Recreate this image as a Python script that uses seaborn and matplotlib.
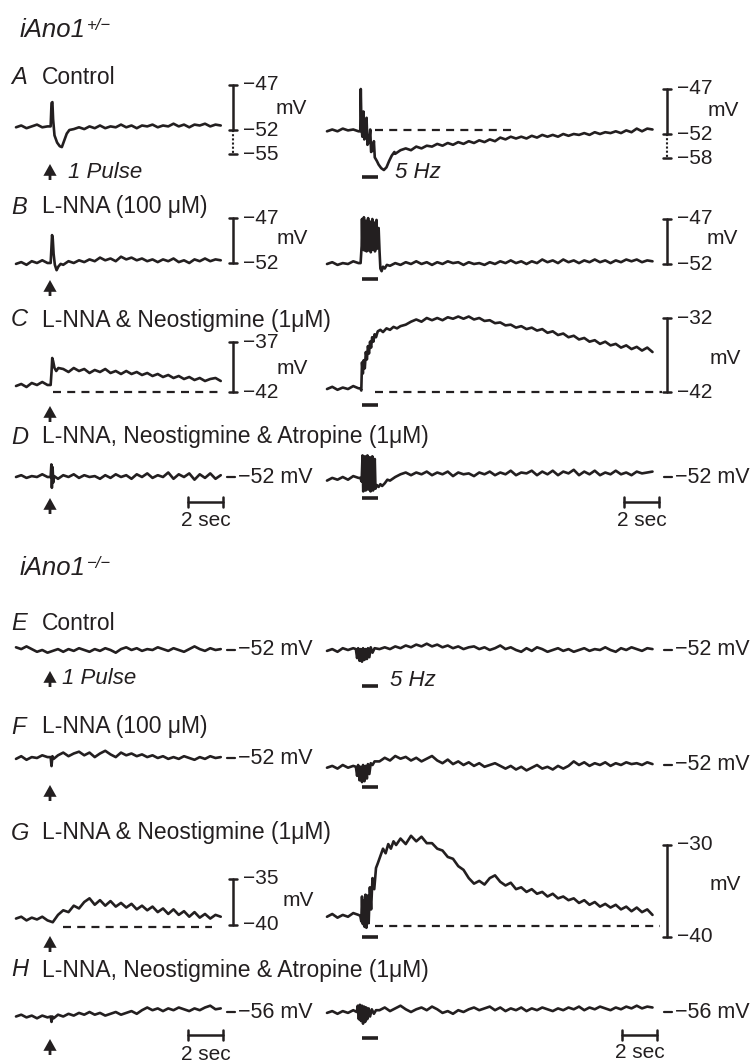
import numpy as np
import matplotlib
matplotlib.use("Agg")
import matplotlib.pyplot as plt
import seaborn as sns

sns.set_theme(style="white")
plt.rcParams['font.family'] = ['Liberation Sans', 'DejaVu Sans']

# ---------------------------------------------------------------- data
# membrane potential traces (mV) read off the figure, sampled every STEP s;
# *_ev_t / *_ev_v hold the finer samples read around the stimulus.
STEP = 0.3

A_left = [-51.7, -51.5, -51.8, -51.6, -51.4, -51.7, -51.6, -52.0, -53.5, -53.8, -52.5,
          -51.9, -51.7, -51.9, -51.6, -51.8, -51.5, -51.8, -51.6, -51.7, -51.4, -51.7, -51.5,
          -51.8, -51.5, -51.6, -51.4, -51.7, -51.5, -51.6, -51.3, -51.6, -51.4, -51.7, -51.4,
          -51.5, -51.3, -51.6, -51.4, -51.5]
A_left_ev_t = [1.98, 2.03, 2.08, 2.12, 2.2, 2.35, 2.5, 2.62, 2.75, 2.9, 3.05]
A_left_ev_v = [-51.6, -49.0, -48.9, -50.8, -52.6, -53.4, -53.8, -53.9, -53.2, -52.4, -52.0]

A_right = [-51.7, -51.5, -51.7, -51.4, -51.6, -51.5, -51.7, -52.0, -53.0, -54.0, -55.0,
           -56.0, -55.0, -54.2,
           -53.8, -53.6, -53.8, -53.4, -53.6, -53.3, -53.4, -53.1, -53.3, -53.0, -53.2, -52.9,
           -53.1, -52.8, -53.0, -52.7, -52.9, -52.6, -52.8, -52.4, -52.6, -52.3, -52.5, -52.3,
           -52.5, -52.2, -52.4, -52.1, -52.3, -52.1, -52.3, -52.0, -52.2, -52.0, -52.1, -51.9,
           -52.1, -51.8, -52.0, -51.8, -51.9, -51.7, -51.9, -51.6, -51.8, -51.4, -51.7, -51.4,
           -51.5]
A_right_ev_t = [1.9, 1.93, 1.97, 2.02, 2.08, 2.13, 2.2, 2.26, 2.31, 2.4, 2.47, 2.52, 2.62,
                2.68, 2.73, 2.85, 2.95, 3.1, 3.25, 3.4, 3.55, 3.7, 3.85]
A_right_ev_v = [-51.7, -47.0, -51.2, -52.3, -49.5, -52.6, -52.2, -50.2, -53.2, -52.9, -51.5,
                -54.0, -53.8, -52.8, -54.6, -55.0, -55.4, -55.8, -56.0, -55.7, -55.0, -54.4,
                -54.0]

B_left = [-52.1, -51.9, -52.2, -51.8, -52.0, -51.7, -52.0, -50.0, -52.5,
          -52.2, -51.8, -52.0, -51.7, -51.9, -51.6, -51.8, -51.4, -51.7, -51.5, -51.8, -51.3,
          -51.6, -51.4, -51.7, -51.5, -51.8, -51.6, -51.9, -51.6, -51.8, -51.5, -51.9, -51.7,
          -52.0, -51.6, -51.8, -51.5, -51.8, -51.6, -51.7]
B_left_ev_t = [1.98, 2.02, 2.06, 2.1, 2.15, 2.22, 2.32, 2.42, 2.55]
B_left_ev_v = [-52.0, -50.5, -48.9, -49.3, -51.0, -52.2, -52.8, -52.4, -52.1]

B_right = [-52.0, -51.8, -52.1, -51.9, -52.0, -51.7, -51.9, -49.8, -49.8, -49.8, -50.0, -52.5,
           -52.2, -51.9, -52.1, -51.8, -52.0, -51.7, -52.0, -51.8, -52.1, -51.8, -52.0, -51.7,
           -51.9, -51.8, -52.1, -51.8, -52.0, -51.9, -52.1, -51.8, -52.0, -51.7, -51.9, -51.6,
           -51.9, -51.7, -52.0, -51.7, -51.9, -51.5, -51.8, -51.6, -51.9, -51.5, -51.8, -51.6,
           -51.9, -51.6, -51.8, -51.5, -51.8, -51.6, -51.9, -51.6, -51.8, -51.5, -51.7, -51.5,
           -51.8, -51.6, -51.7]
B_right_ev_t = [1.92, 1.98, 2.0, 2.03, 2.08, 2.11, 2.14, 2.2, 2.23, 2.26, 2.32, 2.35, 2.38,
                2.44, 2.47, 2.5, 2.56, 2.59, 2.62, 2.68, 2.71, 2.74, 2.8, 2.83, 2.86, 2.92,
                2.95, 3.0, 3.05, 3.12, 3.2, 3.3, 3.42]
B_right_ev_v = [-51.9, -50.0, -47.0, -50.4, -49.6, -46.8, -50.5, -49.8, -47.2, -50.6, -49.7,
                -46.9, -50.5, -49.9, -47.3, -50.7, -49.8, -47.0, -50.4, -49.9, -47.4, -50.6,
                -50.0, -47.1, -50.3, -49.9, -48.0, -50.5, -52.5, -52.8, -52.3, -52.5, -52.1]

C_left = [-41.4, -41.2, -41.5, -41.1, -41.3, -41.0, -41.3, -39.0, -39.8,
          -39.7, -40.0, -39.6, -39.9, -39.7, -40.1, -39.8, -40.0, -39.7, -40.1, -39.9, -40.2,
          -39.9, -40.2, -40.0, -40.3, -40.1, -40.4, -40.2, -40.5, -40.3, -40.6, -40.4, -40.7,
          -40.5, -40.8, -40.6, -40.9, -40.7, -40.6, -40.9]
C_left_ev_t = [1.98, 2.03, 2.07, 2.12, 2.2, 2.3, 2.42]
C_left_ev_v = [-41.3, -40.0, -38.6, -38.9, -39.6, -39.9, -39.6]

C_right = [-41.6, -41.3, -41.7, -41.4, -41.6, -41.2, -41.5, -38.0, -36.0, -34.5, -33.8,
           -33.6, -33.5, -33.4, -33.3,
           -32.9, -32.5, -32.2, -32.5, -32.0, -32.3, -32.0, -32.3, -31.9, -32.1, -31.8, -32.1,
           -31.8, -32.2, -32.0, -32.4, -32.3, -32.7, -32.6, -33.0, -32.9, -33.3, -33.1, -33.5,
           -33.3, -33.7, -33.5, -34.0, -33.8, -34.3, -34.1, -34.6, -34.4, -34.9, -34.7, -35.2,
           -35.0, -35.5, -35.2, -35.7, -35.5, -36.0, -35.7, -36.2, -35.9, -36.4, -36.0, -36.6]
C_right_ev_t = [1.9, 1.96, 2.0, 2.05, 2.1, 2.16, 2.22, 2.28, 2.34, 2.4, 2.46, 2.52, 2.58,
                2.65, 2.72, 2.8, 2.9, 3.05, 3.2, 3.4, 3.6, 3.8, 4.0, 4.2]
C_right_ev_v = [-41.5, -41.8, -38.0, -39.5, -37.7, -38.8, -36.6, -37.6, -35.8, -36.8, -35.2,
                -36.0, -34.6, -35.2, -34.2, -34.6, -33.8, -33.6, -33.9, -33.4, -33.6, -33.2,
                -33.4, -33.1]

D_left = [-52.0, -51.8, -52.1, -51.9, -52.0, -51.7, -52.0, -52.0,
          -52.2, -51.8, -52.0, -51.7, -52.1, -51.8, -52.0, -51.9, -52.2, -51.8, -52.1, -51.7,
          -52.0, -51.8, -52.2, -51.7, -52.0, -51.6, -52.1, -51.8, -52.0, -51.5, -52.2, -51.7,
          -52.0, -51.6, -52.3, -51.7, -52.1, -51.6, -52.2, -51.8]
D_left_ev_t = [1.98, 2.02, 2.05, 2.09, 2.13, 2.18]
D_left_ev_v = [-52.0, -50.6, -53.2, -50.9, -52.6, -51.9]

D_right = [-52.4, -52.1, -52.3, -52.0, -52.3, -51.9, -52.1, -52.0, -52.0, -52.0, -52.0, -52.7,
           -52.4, -52.0, -51.7, -51.5, -51.8, -51.5, -51.7, -51.4, -51.8, -51.5, -51.7, -51.4,
           -51.9, -51.5, -51.7, -51.6, -51.9, -51.5, -51.7, -51.4, -51.8, -51.5, -51.7, -51.3,
           -51.8, -51.5, -51.6, -51.3, -51.8, -51.4, -51.7, -51.3, -51.8, -51.4, -51.6, -51.2,
           -51.8, -51.4, -51.7, -51.3, -51.8, -51.5, -51.7, -51.3, -51.7, -51.5, -51.8, -51.4,
           -51.6, -51.5, -51.4]
D_right_ev_t = [1.9, 1.98, 2.03, 2.07, 2.17, 2.21, 2.31, 2.35, 2.45, 2.49, 2.59, 2.63, 2.73,
                2.77, 2.85, 2.95, 3.05, 3.15, 3.3, 3.45]
D_right_ev_v = [-52.1, -52.5, -49.6, -53.6, -49.7, -53.5, -49.6, -53.4, -49.8, -53.6, -49.7,
                -53.5, -50.0, -53.3, -52.9, -53.1, -52.8, -53.0, -52.7, -52.3]

E_left = [-51.7, -51.9, -51.6, -51.9, -52.2, -52.0, -52.3, -52.1, -51.9, -52.2, -51.9, -52.1,
          -51.8, -52.0, -52.2, -51.9, -52.1, -51.8, -52.0, -52.3, -51.9, -51.7, -52.0, -51.8,
          -52.1, -51.9, -52.0, -51.7, -51.9, -52.1, -51.8, -52.0, -52.2, -51.9, -51.6, -51.9,
          -52.1, -51.8, -52.0, -51.9]

E_right = [-52.1, -51.9, -52.2, -51.8, -52.0, -51.8, -52.5, -52.5, -52.5, -52.2,
           -51.9, -51.7, -51.9, -51.6, -51.8, -51.5, -51.7, -51.4, -51.6, -51.3, -51.6, -51.4,
           -51.7, -51.5, -51.8, -51.6, -51.9, -51.7, -51.6, -51.9, -51.7, -52.0, -51.8, -51.5,
           -51.9, -51.7, -52.0, -52.2, -51.8, -52.1, -51.7, -51.9, -52.2, -52.0, -51.8, -52.1,
           -51.9, -52.2, -52.0, -51.8, -52.1, -51.9, -52.0, -51.7, -52.0, -52.2, -51.8, -52.0,
           -51.7, -51.9, -52.1, -51.8, -51.9]
E_right_ev_t = [1.65, 1.72, 1.78, 1.86, 1.92, 2.0, 2.06, 2.14, 2.2, 2.28, 2.34, 2.42, 2.5,
                2.6, 2.72]
E_right_ev_v = [-51.9, -52.9, -51.8, -53.2, -51.9, -53.3, -51.8, -53.1, -51.9, -53.0, -51.8,
                -52.8, -51.7, -52.3, -51.8]

F_left = [-52.1, -51.8, -52.2, -51.9, -52.0, -51.7, -51.9, -52.0,
          -51.7, -51.4, -51.8, -51.5, -51.3, -51.7, -51.4, -51.9, -51.5, -51.2, -51.6, -51.9,
          -51.4, -51.7, -51.5, -51.8, -51.6, -51.9, -51.7, -52.0, -51.8, -52.1, -51.9, -52.1,
          -51.8, -52.0, -52.2, -51.9, -52.1, -51.8, -52.0, -51.9]
F_left_ev_t = [1.98, 2.03, 2.08, 2.15]
F_left_ev_v = [-51.9, -52.9, -51.8, -52.1]

F_right = [-52.3, -52.1, -52.4, -52.0, -52.3, -52.1, -53.0, -53.0, -53.0, -52.0,
           -51.6, -51.2, -51.5, -51.0, -51.3, -51.1, -51.5, -51.2, -51.6, -51.3, -51.0, -51.5,
           -51.8, -51.4, -51.9, -51.6, -52.0, -51.7, -52.1, -51.8, -52.2, -52.0, -51.8, -52.1,
           -52.4, -52.1, -52.5, -52.2, -52.6, -52.3, -52.0, -52.4, -52.2, -52.5, -52.1, -52.4,
           -52.1, -51.6, -52.0, -51.7, -52.1, -51.8, -52.0, -51.7, -52.1, -51.8, -52.0, -51.7,
           -51.9, -51.8, -52.0, -51.7, -51.9]
F_right_ev_t = [1.65, 1.72, 1.78, 1.86, 1.92, 2.0, 2.06, 2.14, 2.2, 2.28, 2.34, 2.42, 2.5,
                2.6, 2.72]
F_right_ev_v = [-52.2, -53.2, -52.0, -53.7, -52.2, -53.9, -52.0, -53.8, -52.1, -53.5, -51.9,
                -53.0, -51.8, -52.0, -51.6]

G_left = [-39.3, -39.1, -39.5, -39.2, -39.4, -39.1, -39.5, -39.7, -38.9, -38.4, -38.6, -37.9,
          -38.2, -37.5, -37.1, -37.8, -37.3, -37.9, -37.4, -38.0, -37.6, -38.1, -37.7, -38.3,
          -37.9, -38.4, -38.0, -38.6, -38.2, -38.8, -38.3, -38.9, -38.5, -39.1, -38.6, -39.2,
          -38.8, -39.3, -38.9, -39.1]

G_right = [-37.8, -37.5, -37.9, -37.6, -37.8, -37.4, -37.6, -37.0, -36.0, -34.0, -32.0,
           -31.5, -30.7, -30.2,
           -29.3, -29.9, -29.0, -29.6, -29.1, -29.8, -29.8, -30.4, -30.6, -31.3, -31.5, -32.3,
           -32.7, -33.6, -34.2, -33.9, -34.3, -33.6, -33.3, -34.0, -34.4, -34.1, -34.8, -34.6,
           -35.1, -34.8, -35.3, -35.1, -35.6, -35.3, -35.8, -35.6, -36.0, -35.8, -36.3, -36.0,
           -36.5, -36.2, -36.7, -36.4, -36.8, -36.5, -37.0, -36.7, -37.2, -36.8, -37.3, -37.0,
           -37.6]
G_right_ev_t = [1.9, 1.96, 2.0, 2.05, 2.1, 2.15, 2.2, 2.25, 2.32, 2.38, 2.45, 2.52, 2.6, 2.7,
                2.8, 2.9, 3.05, 3.2, 3.35, 3.5, 3.65, 3.8, 3.95]
G_right_ev_v = [-37.7, -38.3, -35.6, -38.6, -36.0, -38.9, -35.4, -39.0, -35.5, -38.5, -34.6,
                -37.0, -33.6, -34.8, -32.5, -32.0, -31.2, -30.4, -30.9, -29.9, -30.4, -29.6,
                -30.0]

H_left = [-56.5, -56.3, -56.6, -56.4, -56.7, -56.4, -56.6, -56.8,
          -56.3, -56.5, -56.2, -56.4, -56.1, -56.3, -56.0, -56.3, -56.1, -56.4, -56.2, -56.0,
          -56.3, -56.1, -55.9, -56.2, -55.8, -55.5, -55.8, -55.6, -55.9, -55.6, -55.8, -55.5,
          -55.7, -55.9, -55.6, -55.8, -55.5, -55.3, -55.7, -55.6]
H_left_ev_t = [1.98, 2.03, 2.08, 2.15]
H_left_ev_v = [-56.5, -57.1, -56.5, -56.7]

H_right = [-56.1, -55.9, -56.2, -55.9, -56.1, -55.8, -56.0, -56.0, -56.0, -56.0,
           -55.8, -55.5, -55.9, -55.6, -55.3, -55.7, -56.0, -55.7, -55.5, -55.8, -55.4, -55.7,
           -56.1, -55.9, -56.2, -55.8, -56.0, -55.7, -55.5, -55.8, -55.6, -55.4, -55.8, -55.5,
           -55.9, -55.6, -55.8, -55.5, -55.9, -55.6, -55.8, -55.5, -55.7, -55.9, -55.6, -55.8,
           -55.5, -55.7, -55.4, -55.8, -55.5, -55.7, -55.4, -55.6, -55.8, -55.5, -55.7, -55.4,
           -55.6, -55.3, -55.6, -55.4, -55.5]
H_right_ev_t = [1.7, 1.76, 1.82, 1.88, 1.94, 2.0, 2.06, 2.12, 2.18, 2.24, 2.3, 2.38, 2.46,
                2.56, 2.68, 2.8]
H_right_ev_v = [-56.0, -55.3, -56.8, -55.2, -57.0, -55.3, -57.3, -55.4, -57.1, -55.5, -56.8,
                -55.6, -56.5, -55.7, -56.2, -55.8]

# stimulus timing (s)
TRAIN_T = [2.0, 2.9]

# scale-bar values (mV) and labels
SCALE_A = [-47, -52]
SCALE_B = [-47, -52]
SCALE_C_left = [-37, -42]
SCALE_C_right = [-32, -42]
SCALE_G_left = [-35, -40]
SCALE_G_right = [-30, -40]
LEVEL_D = -52
LEVEL_E = -52
LEVEL_F = -52
LEVEL_H = -56
TIME_BAR = 2  # s

panel_letters = ["A", "B", "C", "D", "E", "F", "G", "H"]
panel_titles = ["Control", "L-NNA (100 \u03bcM)", "L-NNA & Neostigmine (1\u03bcM)",
                "L-NNA, Neostigmine & Atropine (1\u03bcM)",
                "Control", "L-NNA (100 \u03bcM)", "L-NNA & Neostigmine (1\u03bcM)",
                "L-NNA, Neostigmine & Atropine (1\u03bcM)"]
genotypes = ["iAno1", "iAno1"]
genotype_sup = ["+/\u2212", "\u2212/\u2212"]

# ---------------------------------------------------------------- layout
W, H = 751, 1062
PXS = 17.5          # px per second
INK = "#231f20"
TRACE_LW = 1.9
fig = plt.figure(figsize=(W / 100, H / 100), dpi=100)
fig.patch.set_facecolor("white")

canvas = fig.add_axes([0, 0, 1, 1])
canvas.set_xlim(0, W)
canvas.set_ylim(H, 0)
canvas.axis("off")


class Half:
    def __init__(self, t0_px, y_ref, v_ref, pxmv, width):
        self.t0, self.yr, self.vr, self.k = t0_px, y_ref, v_ref, pxmv
        x_lo, x_hi = t0_px - 12, t0_px + width
        y_lo, y_hi = y_ref - 110, y_ref + 70
        self.ax = fig.add_axes([x_lo / W, 1 - y_hi / H, (x_hi - x_lo) / W, (y_hi - y_lo) / H])
        self.lims = ((x_lo - t0_px) / PXS, (x_hi - t0_px) / PXS,
                     v_ref - (y_hi - y_ref) / pxmv, v_ref + (y_ref - y_lo) / pxmv)

    def X(self, px):
        return (px - self.t0) / PXS

    def V(self, py):
        return self.vr - (py - self.yr) / self.k

    def finish(self):
        ax = self.ax
        ax.set_xlim(self.lims[0], self.lims[1])
        ax.set_ylim(self.lims[2], self.lims[3])
        ax.axis("off")
        ax.patch.set_alpha(0)
        for ln in ax.lines:
            ln.set_clip_on(False)


def build(grid, ev_t=(), ev_v=()):
    t = STEP * np.arange(len(grid))
    v = np.asarray(grid, float)
    if len(ev_t):
        keep = (t < ev_t[0]) | (t > ev_t[-1])
        t = np.concatenate([t[keep], ev_t])
        v = np.concatenate([v[keep], ev_v])
        o = np.argsort(t, kind="stable")
        t, v = t[o], v[o]
    return t, v


def trace(h, grid, ev_t=(), ev_v=()):
    t, v = build(grid, ev_t, ev_v)
    sns.lineplot(x=t, y=v, ax=h.ax, color=INK, lw=TRACE_LW, estimator=None, sort=False,
                 solid_joinstyle="round")


def dashed(h, v, t_a, t_b):
    h.ax.plot([t_a, t_b], [v, v], color=INK, lw=1.6, ls=(0, (3.6, 2.8)))


def vscale(h, x_px, v_hi, v_lo, mv_pos, labels, dotted_to=None):
    ax = h.ax
    x = h.X(x_px)
    cap = 4 / PXS
    ax.plot([x, x], [v_hi, v_lo], color=INK, lw=1.8)
    ax.plot([x - cap, x + cap], [v_hi, v_hi], color=INK, lw=1.8)
    ax.plot([x - cap, x + cap], [v_lo, v_lo], color=INK, lw=1.8)
    if dotted_to is not None:
        ax.plot([x, x], [v_lo, dotted_to], color=INK, lw=1.5, ls=(0, (1, 1)))
        ax.plot([x - cap, x + cap], [dotted_to, dotted_to], color=INK, lw=1.8)
    lx = h.X(x_px + 10)
    for s, v in labels:
        ax.text(lx, v, s, fontsize=15, va="center", ha="left", color=INK)
    ax.text(h.X(mv_pos[0]), mv_pos[1], "mV", fontsize=15, va="center", ha="left", color=INK)


def level(h, v, x_px, text):
    ax = h.ax
    ax.plot([h.X(x_px), h.X(x_px + 8)], [v, v], color=INK, lw=1.6)
    ax.text(h.X(x_px + 11), v, text, fontsize=15.5, va="center", ha="left", color=INK)


def stim_bar(h, v):
    h.ax.plot(TRAIN_T, [v, v], color=INK, lw=2.6, solid_capstyle="butt")


def time_bar(h, x_px, v, v_txt):
    ax = h.ax
    t_a = h.X(x_px)
    t_b = t_a + TIME_BAR
    tick = 5 / h.k
    ax.plot([t_a, t_b], [v, v], color=INK, lw=1.8)
    ax.plot([t_a, t_a], [v - tick, v + tick], color=INK, lw=1.8)
    ax.plot([t_b, t_b], [v - tick, v + tick], color=INK, lw=1.8)
    ax.text((t_a + t_b) / 2, v_txt, f"{TIME_BAR} sec", fontsize=15, ha="center", va="center",
            color=INK)


def arrow(y):
    canvas.annotate("", xy=(50, y - 8), xytext=(50, y + 8),
                    arrowprops=dict(width=2.0, headwidth=9.5, headlength=8.5,
                                    facecolor=INK, edgecolor=INK, lw=0))


def panel_label(i, y):
    canvas.text(11, y, panel_letters[i], fontsize=17, style="italic", va="center", ha="left",
                color=INK)
    canvas.text(42, y, panel_titles[i], fontsize=16.5, va="center", ha="left", color=INK)


LW, RW = 320, 425   # axes widths (px) for left / right halves
LX, RX = 16, 327    # t = 0 positions (px)

# genotype headers
renderer = fig.canvas.get_renderer()
for y, g, s in zip([30, 568], genotypes, genotype_sup):
    tt = canvas.text(20, y, g, fontsize=18.5, style="italic", va="center", ha="left", color=INK)
    bb = tt.get_window_extent(renderer)
    canvas.text(bb.x1 + 1, y - 5, s, fontsize=12, style="italic", va="center", ha="left",
                color=INK)

# ---- A
panel_label(0, 77)
h = Half(LX, 130, -52, 9.0, LW)
trace(h, A_left, A_left_ev_t, A_left_ev_v)
vscale(h, 233, SCALE_A[0], SCALE_A[1], (276, h.V(108)),
       [("\u221247", -47), ("\u221252", -52), ("\u221255", -54.7)], dotted_to=-54.7)
h.finish()
arrow(172)
canvas.text(68, 172, "1 Pulse", fontsize=16, style="italic", va="center", ha="left", color=INK)

h = Half(RX, 134, -52, 9.0, RW)
trace(h, A_right, A_right_ev_t, A_right_ev_v)
dashed(h, h.V(130), h.X(375), h.X(515))
stim_bar(h, h.V(177))
vscale(h, 667, SCALE_A[0], SCALE_A[1], (708, h.V(110)),
       [("\u221247", -47), ("\u221252", -52), ("\u221258", -54.7)], dotted_to=-54.7)
h.ax.text(h.X(395), h.V(173), "5 Hz", fontsize=16, style="italic", va="center", ha="left",
          color=INK)
h.finish()

# ---- B
panel_label(1, 207)
h = Half(LX, 263, -52, 9.0, LW)
trace(h, B_left, B_left_ev_t, B_left_ev_v)
vscale(h, 233, SCALE_B[0], SCALE_B[1], (277, h.V(238)),
       [("\u221247", -47), ("\u221252", -52)])
h.finish()
arrow(288)
h = Half(RX, 264, -52, 9.0, RW)
trace(h, B_right, B_right_ev_t, B_right_ev_v)
stim_bar(h, h.V(279))
vscale(h, 667, SCALE_B[0], SCALE_B[1], (707, h.V(238)),
       [("\u221247", -47), ("\u221252", -52)])
h.finish()

# ---- C
panel_label(2, 320)
h = Half(LX, 392, -42, 10.0, LW)
trace(h, C_left, C_left_ev_t, C_left_ev_v)
dashed(h, SCALE_C_left[1], h.X(53), h.X(222))
vscale(h, 233, SCALE_C_left[0], SCALE_C_left[1], (277, h.V(368)),
       [("\u221237", -37), ("\u221242", -42)])
h.finish()
arrow(414)
h = Half(RX, 392, -42, 7.4, RW)
trace(h, C_right, C_right_ev_t, C_right_ev_v)
dashed(h, SCALE_C_right[1], h.X(375), h.X(662))
stim_bar(h, h.V(405))
vscale(h, 667, SCALE_C_right[0], SCALE_C_right[1], (710, h.V(358)),
       [("\u221232", -32), ("\u221242", -42)])
h.finish()

# ---- D
panel_label(3, 437)
h = Half(LX, 477, -52, 9.0, LW)
trace(h, D_left, D_left_ev_t, D_left_ev_v)
level(h, LEVEL_D, 227, "\u221252 mV")
time_bar(h, 188, h.V(502), h.V(520))
h.finish()
arrow(506)
h = Half(RX, 477, -52, 9.0, RW)
trace(h, D_right, D_right_ev_t, D_right_ev_v)
stim_bar(h, h.V(498))
level(h, LEVEL_D, 664, "\u221252 mV")
time_bar(h, 624, h.V(502), h.V(520))
h.finish()

# ---- E
panel_label(4, 623)
h = Half(LX, 650, -52, 9.0, LW)
trace(h, E_left)
level(h, LEVEL_E, 227, "\u221252 mV")
h.finish()
arrow(679)
canvas.text(62, 679, "1 Pulse", fontsize=16, style="italic", va="center", ha="left", color=INK)
h = Half(RX, 650, -52, 9.0, RW)
trace(h, E_right, E_right_ev_t, E_right_ev_v)
stim_bar(h, h.V(686))
h.ax.text(h.X(390), h.V(681), "5 Hz", fontsize=16, style="italic", va="center", ha="left",
          color=INK)
level(h, LEVEL_E, 664, "\u221252 mV")
h.finish()

# ---- F
panel_label(5, 727)
h = Half(LX, 758, -52, 9.0, LW)
trace(h, F_left, F_left_ev_t, F_left_ev_v)
level(h, LEVEL_F, 227, "\u221252 mV")
h.finish()
arrow(793)
h = Half(RX, 765, -52, 9.0, RW)
trace(h, F_right, F_right_ev_t, F_right_ev_v)
stim_bar(h, h.V(787))
level(h, LEVEL_F, 664, "\u221252 mV")
h.finish()

# ---- G
panel_label(6, 833)
h = Half(LX, 925, -40, 9.2, LW)
trace(h, G_left)
dashed(h, -40.2, h.X(63), h.X(212))
vscale(h, 233, SCALE_G_left[0], SCALE_G_left[1], (283, h.V(900)),
       [("\u221235", -35), ("\u221240", -40)])
h.finish()
arrow(944)
h = Half(RX, 937, -40, 9.2, RW)
trace(h, G_right, G_right_ev_t, G_right_ev_v)
dashed(h, h.V(926), h.X(375), h.X(660))
stim_bar(h, h.V(937))
vscale(h, 667, SCALE_G_right[0], SCALE_G_right[1], (710, h.V(885)),
       [("\u221230", -30), ("\u221240", -40)])
h.finish()

# ---- H
panel_label(7, 970)
h = Half(LX, 1012, -56, 9.0, LW)
trace(h, H_left, H_left_ev_t, H_left_ev_v)
level(h, LEVEL_H, 227, "\u221256 mV")
time_bar(h, 188, h.V(1035), h.V(1054))
h.finish()
arrow(1047)
h = Half(RX, 1012, -56, 9.0, RW)
trace(h, H_right, H_right_ev_t, H_right_ev_v)
stim_bar(h, h.V(1038))
level(h, LEVEL_H, 664, "\u221256 mV")
time_bar(h, 622, h.V(1035), h.V(1053))
h.finish()

fig.savefig("out.png", dpi=100, facecolor="white")
